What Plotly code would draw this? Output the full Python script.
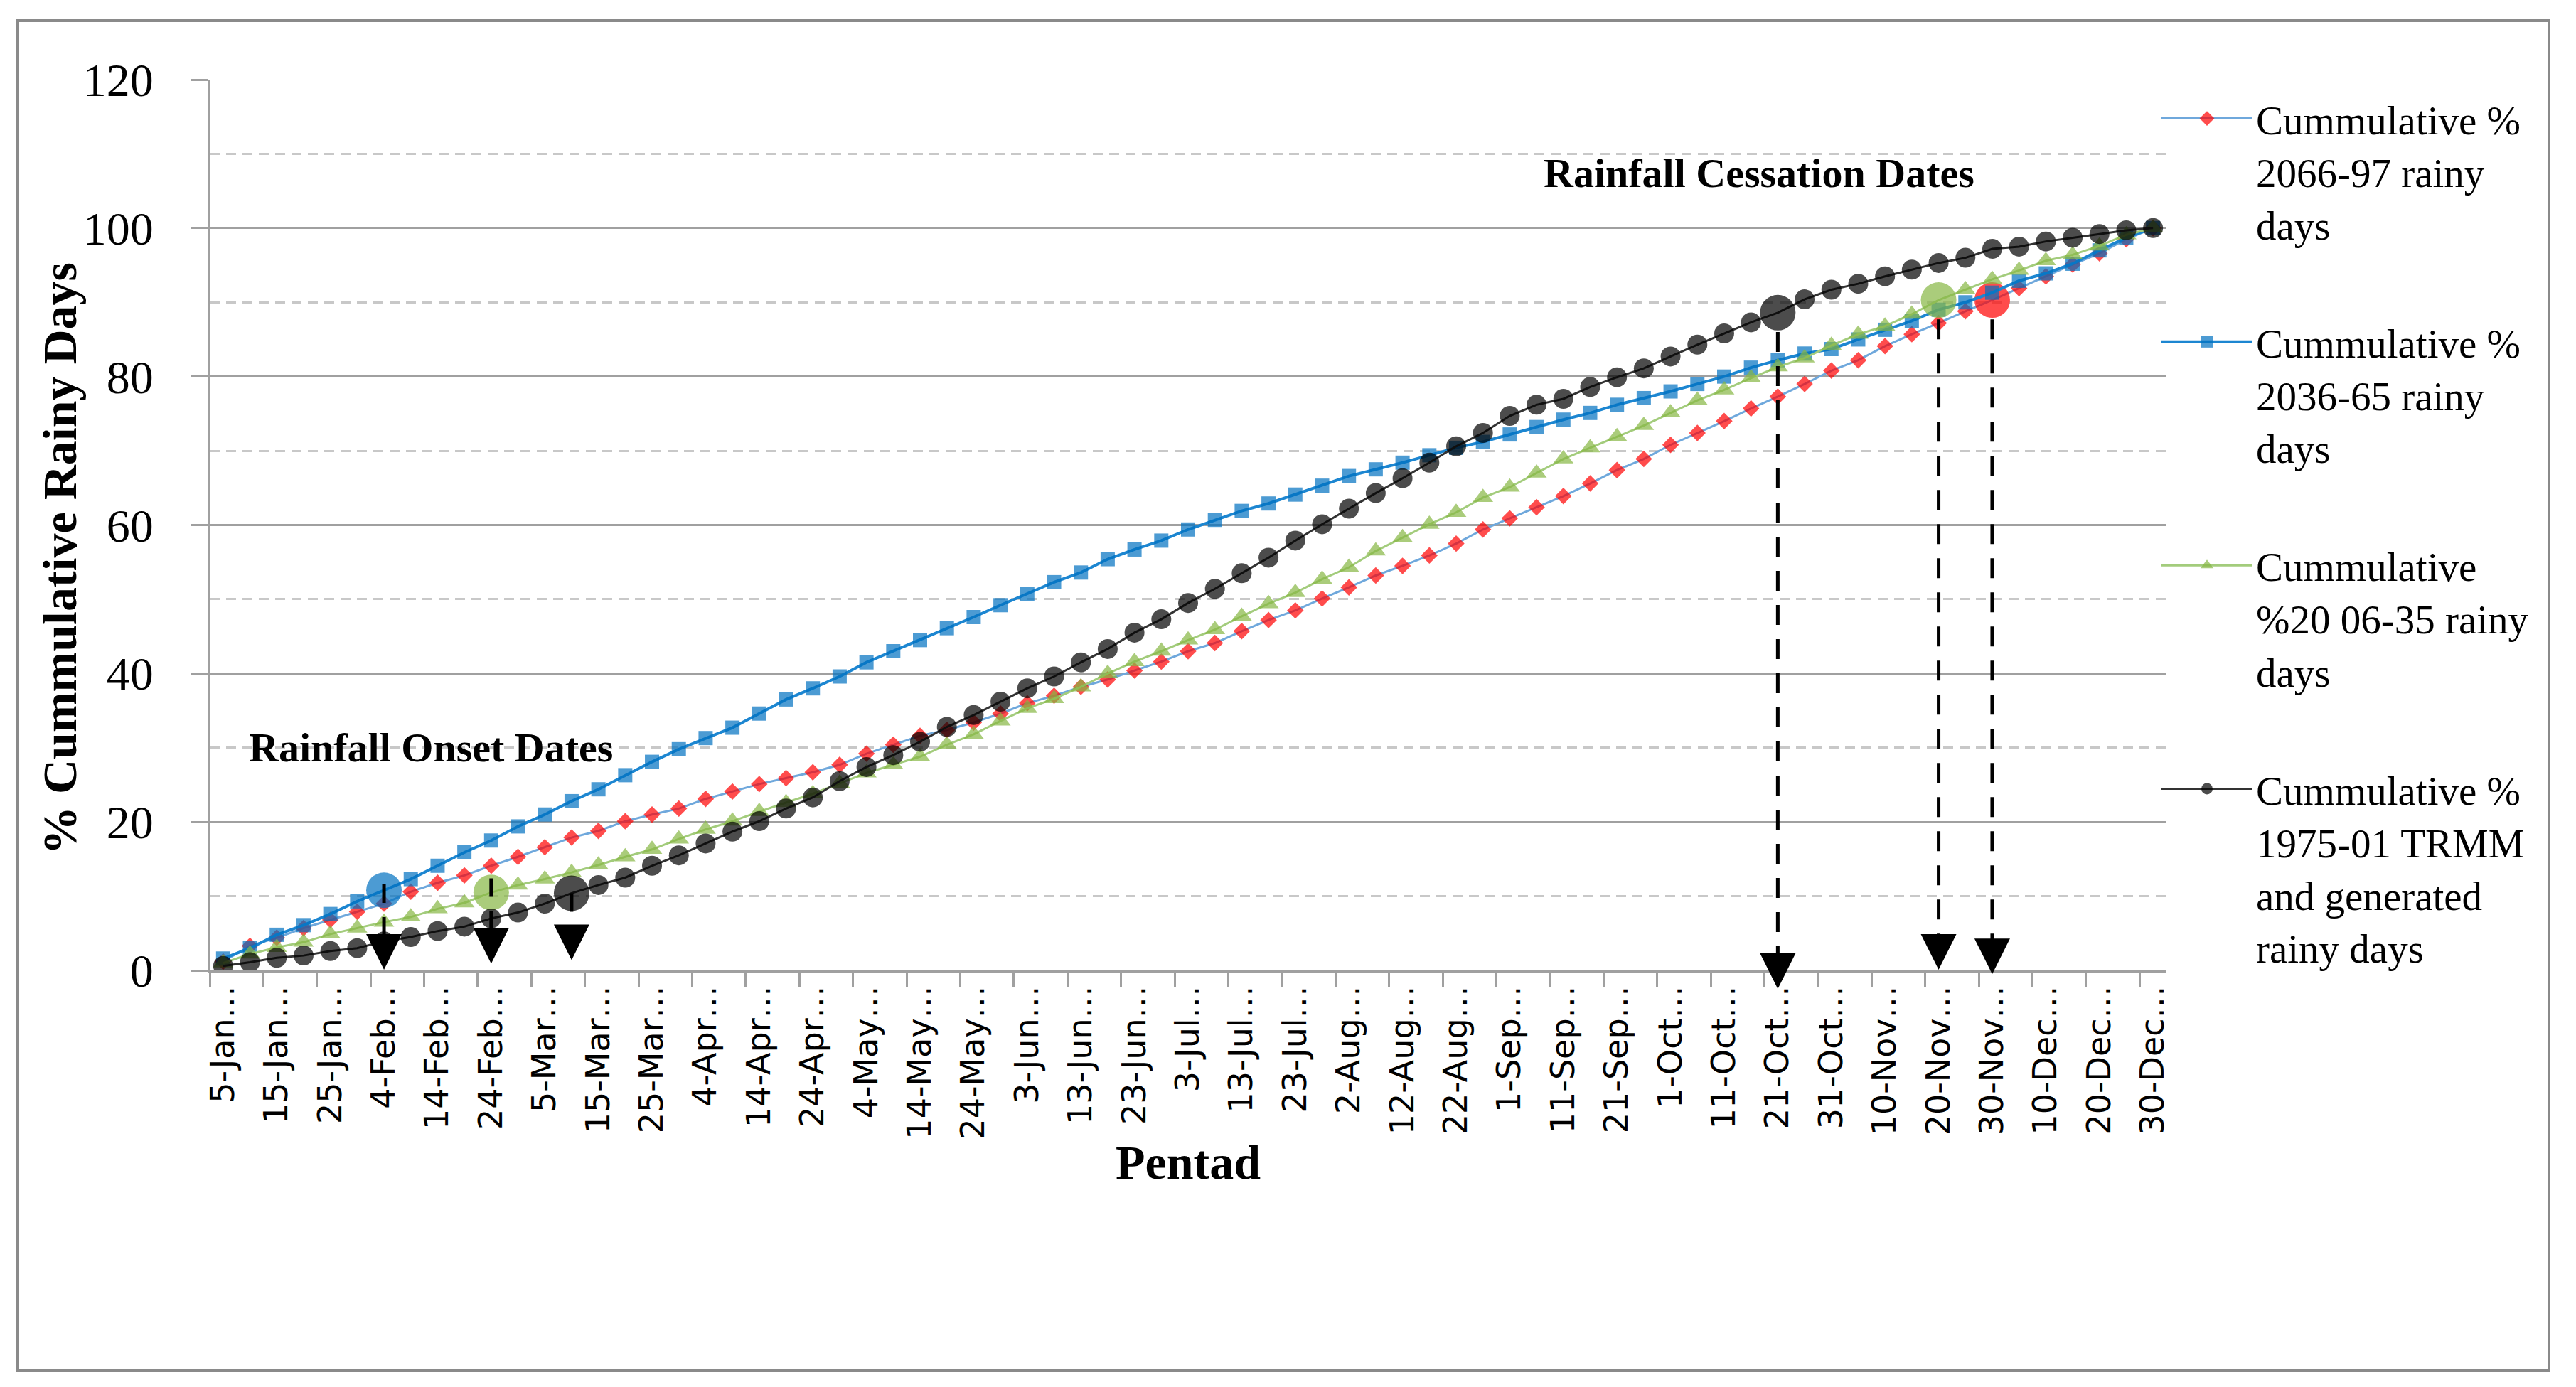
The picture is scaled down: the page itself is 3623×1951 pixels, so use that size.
import plotly.graph_objects as go

# ---------------- data ----------------
pentads = ["5-Jan", "10-Jan", "15-Jan", "20-Jan", "25-Jan", "30-Jan",
           "4-Feb", "9-Feb", "14-Feb", "19-Feb", "24-Feb", "29-Feb",
           "5-Mar", "10-Mar", "15-Mar", "20-Mar", "25-Mar", "30-Mar",
           "4-Apr", "9-Apr", "14-Apr", "19-Apr", "24-Apr", "29-Apr",
           "4-May", "9-May", "14-May", "19-May", "24-May", "29-May",
           "3-Jun", "8-Jun", "13-Jun", "18-Jun", "23-Jun", "28-Jun",
           "3-Jul", "8-Jul", "13-Jul", "18-Jul", "23-Jul", "28-Jul",
           "2-Aug", "7-Aug", "12-Aug", "17-Aug", "22-Aug", "27-Aug",
           "1-Sep", "6-Sep", "11-Sep", "16-Sep", "21-Sep", "26-Sep",
           "1-Oct", "6-Oct", "11-Oct", "16-Oct", "21-Oct", "26-Oct", "31-Oct",
           "5-Nov", "10-Nov", "15-Nov", "20-Nov", "25-Nov", "30-Nov",
           "5-Dec", "10-Dec", "15-Dec", "20-Dec", "25-Dec", "30-Dec"]

tick_labels = ["5-Jan…", "15-Jan…", "25-Jan…", "4-Feb…", "14-Feb…", "24-Feb…",
               "5-Mar…", "15-Mar…", "25-Mar…", "4-Apr…", "14-Apr…", "24-Apr…",
               "4-May…", "14-May…", "24-May…", "3-Jun…", "13-Jun…", "23-Jun…",
               "3-Jul…", "13-Jul…", "23-Jul…", "2-Aug…", "12-Aug…", "22-Aug…",
               "1-Sep…", "11-Sep…", "21-Sep…", "1-Oct…", "11-Oct…", "21-Oct…",
               "31-Oct…", "10-Nov…", "20-Nov…", "30-Nov…", "10-Dec…", "20-Dec…",
               "30-Dec…"]

cum_2066_97 = [1.2, 3.3, 4.4, 5.7, 6.8, 7.9, 9.0, 10.6, 11.8, 12.8, 14.1, 15.3,
               16.6, 17.9, 18.8, 20.1, 21.0, 21.8, 23.1, 24.1, 25.1, 25.9, 26.7, 27.7,
               29.2, 30.4, 31.6, 32.4, 33.4, 34.6, 36.0, 37.0, 38.2, 39.2, 40.4, 41.6,
               43.0, 44.1, 45.7, 47.2, 48.5, 50.1, 51.6, 53.2, 54.5, 55.9, 57.5, 59.4,
               60.9, 62.4, 63.9, 65.6, 67.4, 68.9, 70.8, 72.4, 74.0, 75.7, 77.3, 79.0,
               80.8, 82.2, 84.1, 85.7, 87.2, 88.8, 90.3, 91.9, 93.5, 95.1, 96.6, 98.5,
               100.0]

cum_2036_65 = [1.6, 3.0, 4.8, 6.1, 7.6, 9.3, 10.8, 12.3, 14.1, 15.9, 17.5, 19.4,
               21.0, 22.8, 24.4, 26.3, 28.1, 29.8, 31.3, 32.7, 34.6, 36.5, 38.0, 39.6,
               41.5, 43.0, 44.5, 46.1, 47.6, 49.2, 50.7, 52.3, 53.6, 55.4, 56.7, 57.9,
               59.4, 60.7, 61.9, 62.9, 64.1, 65.3, 66.6, 67.5, 68.4, 69.4, 70.4, 71.2,
               72.2, 73.2, 74.2, 75.1, 76.2, 77.1, 78.0, 79.0, 80.0, 81.2, 82.2, 83.1,
               83.7, 85.0, 86.3, 87.5, 89.0, 90.0, 91.3, 92.9, 93.9, 95.2, 97.0, 98.7,
               100.0]

cum_2006_35 = [1.0, 2.2, 3.1, 3.8, 4.9, 5.7, 6.5, 7.2, 8.3, 9.1, 10.5, 11.5,
               12.3, 13.2, 14.2, 15.3, 16.3, 17.7, 19.0, 20.1, 21.4, 22.6, 23.8, 25.2,
               26.6, 27.7, 28.8, 30.4, 31.8, 33.6, 35.3, 36.6, 38.2, 40.0, 41.6, 43.0,
               44.5, 45.9, 47.7, 49.4, 50.9, 52.7, 54.3, 56.5, 58.3, 60.1, 61.7, 63.7,
               65.1, 67.0, 68.9, 70.4, 71.9, 73.4, 75.1, 76.8, 78.2, 79.8, 81.3, 82.5,
               84.2, 85.7, 86.8, 88.4, 90.3, 91.7, 93.1, 94.3, 95.6, 96.4, 97.6, 99.1,
               100.0]

cum_trmm = [0.6, 1.1, 1.7, 2.0, 2.6, 3.0, 3.9, 4.5, 5.3, 5.9, 7.0, 7.8,
            9.0, 10.4, 11.5, 12.5, 14.1, 15.5, 17.1, 18.7, 20.1, 21.8, 23.3, 25.5,
            27.4, 29.0, 30.8, 32.8, 34.4, 36.2, 38.0, 39.6, 41.5, 43.3, 45.5, 47.3,
            49.5, 51.4, 53.5, 55.6, 57.9, 60.1, 62.2, 64.3, 66.3, 68.4, 70.6, 72.4,
            74.7, 76.2, 77.0, 78.6, 79.9, 81.1, 82.7, 84.3, 85.8, 87.3, 88.6, 90.4,
            91.7, 92.5, 93.5, 94.4, 95.3, 96.0, 97.2, 97.5, 98.2, 98.7, 99.2, 99.7,
            100.0]

series_names = ["Cummulative %<br>2066-97 rainy<br>days",
                "Cummulative %<br>2036-65 rainy<br>days",
                "Cummulative<br>%20 06-35 rainy<br>days",
                "Cummulative %<br>1975-01 TRMM<br>and generated<br>rainy days"]

# onset / cessation pentads (index into pentads) and the series they mark
onset_marks = [("2036-65", 6), ("2006-35", 10), ("trmm", 13)]
cessation_marks = [("trmm", 58), ("2006-35", 64), ("2066-97", 66)]

y_ticks = [0, 20, 40, 60, 80, 100, 120]
Y_MAX = 120

# ---------------- layout geometry (pixels) ----------------
W, H = 3623, 1951
L, R, T, B = 287, 3039, 104, 1357
PW, PH = R - L, B - T


def px_x(px):
    return (px - L) / PW


def px_y(py):
    return (B - py) / PH


x_pos = list(range(len(pentads)))
tick_pos = x_pos[::2]

series = {
    "2066-97": cum_2066_97,
    "2036-65": cum_2036_65,
    "2006-35": cum_2006_35,
    "trmm": cum_trmm,
}

styles = {
    "2066-97": dict(line="#6FA8DC", marker="#FF0000", symbol="diamond", size=18, lw=3),
    "2036-65": dict(line="#1C86D1", marker="#0070C0", symbol="square", size=20, lw=4),
    "2006-35": dict(line="#A3CC7C", marker="#86B743", symbol="triangle-up", size=25, lw=3),
    "trmm": dict(line="#333333", marker="#000000", symbol="circle", size=28, lw=3),
}
BIG = 50

fig = go.Figure()
order = ["2066-97", "2036-65", "2006-35", "trmm"]
all_marks = onset_marks + cessation_marks
for name, key in zip(series_names, order):
    st = styles[key]
    sizes = [st["size"]] * len(pentads)
    symbols = [st["symbol"]] * len(pentads)
    for k, i in all_marks:
        if k == key:
            sizes[i] = BIG
            symbols[i] = "circle"
    fig.add_trace(go.Scatter(
        x=x_pos, y=series[key], name=name, mode="lines+markers",
        legendgroup=key,
        line=dict(color=st["line"], width=st["lw"]),
        marker=dict(color=st["marker"], size=sizes, symbol=symbols,
                    line=dict(width=0)),
        customdata=pentads,
        hovertemplate="%{customdata}: %{y}<extra></extra>",
    ))

# ---------------- arrows ----------------
shapes = []
annotations = []
onset_tops = [11.6, 12.4, 10.4]
onset_tips = [0.1, 0.9, 1.4]
cess_tips = [-2.5, 0.1, -0.5]
HEAD = 3.5  # arrow head length in axis units


def arrow_head(i, tip):
    # y given in paper units so heads just below the axis still render
    return dict(x=i, y=tip / Y_MAX, xref="x", yref="paper", text="",
                showarrow=True, arrowhead=2, arrowsize=2.0,
                arrowwidth=5, arrowcolor="black",
                axref="pixel", ayref="pixel", ax=0, ay=-42)


for (key, i), top, tip in zip(onset_marks, onset_tops, onset_tips):
    shapes.append(dict(type="line", xref="x", yref="y", x0=i, x1=i,
                       y0=top, y1=tip + HEAD, layer="above",
                       line=dict(color="black", width=5, dash="26px,20px")))
    annotations.append(arrow_head(i, tip))

for (key, i), tip in zip(cessation_marks, cess_tips):
    top = series[key][i] - 2.6
    shapes.append(dict(type="line", xref="x", yref="y", x0=i, x1=i,
                       y0=top, y1=tip + HEAD, layer="above",
                       line=dict(color="black", width=5, dash="28px,20px")))
    annotations.append(arrow_head(i, tip))

# outer frame
shapes.append(dict(type="rect", xref="paper", yref="paper",
                   x0=px_x(17), x1=px_x(3577), y0=px_y(1920), y1=px_y(21),
                   line=dict(color="#8A8A8A", width=4), layer="below"))

SERIF = "Liberation Serif"
annotations += [
    dict(text="<b>Rainfall Onset Dates</b>", x=0.9, y=30.0, xref="x", yref="y",
         xanchor="left", yanchor="middle", showarrow=False,
         font=dict(family=SERIF, size=58, color="black")),
    dict(text="<b>Rainfall Cessation Dates</b>", x=49.2, y=107.4, xref="x", yref="y",
         xanchor="left", yanchor="middle", showarrow=False,
         font=dict(family=SERIF, size=58, color="black")),
    dict(text="<b>% Cummulative Rainy Days</b>", x=px_x(76), y=px_y(778),
         xref="paper", yref="paper", textangle=-90, showarrow=False,
         xanchor="center", yanchor="middle",
         font=dict(family=SERIF, size=68, color="black")),
]

fig.update_layout(
    width=W, height=H,
    margin=dict(l=L, r=W - R, t=T, b=H - B, pad=0),
    paper_bgcolor="white", plot_bgcolor="white",
    showlegend=True,
    legend=dict(x=px_x(3027), y=px_y(115), xanchor="left", yanchor="top",
                valign="top", itemwidth=128, tracegroupgap=89,
                font=dict(family=SERIF, size=57, color="black"),
                bgcolor="rgba(0,0,0,0)", borderwidth=0),
    shapes=shapes,
    annotations=annotations,
    xaxis=dict(
        range=[-0.5, len(pentads) - 0.5],
        tickmode="array", tickvals=tick_pos, ticktext=tick_labels,
        tickangle=-90, ticks="",
        tickfont=dict(family="DejaVu Sans", size=46, color="black"),
        showgrid=False, zeroline=False,
        showline=True, linecolor="#A0A0A0", linewidth=3,
        minor=dict(ticks="outside", tick0=-0.5, dtick=2, ticklen=21,
                   tickwidth=3, tickcolor="#A0A0A0", showgrid=False),
        title=dict(text="<b>Pentad</b>", standoff=9,
                   font=dict(family=SERIF, size=68, color="black")),
    ),
    yaxis=dict(
        range=[0, Y_MAX], tickmode="array", tickvals=y_ticks,
        ticks="outside", ticklen=23, tickwidth=3, tickcolor="#A0A0A0",
        tickfont=dict(family=SERIF, size=66, color="black"),
        ticklabelstandoff=40,
        showgrid=True, gridcolor="#A0A0A0", gridwidth=3,
        zeroline=False, showline=True, linecolor="#A0A0A0", linewidth=3,
        minor=dict(tick0=0, dtick=10, showgrid=True, gridcolor="#C8C8C8",
                   gridwidth=3, griddash="14px,9px", ticks=""),
    ),
)

fig.write_html("out.html", config={"displayModeBar": False})
